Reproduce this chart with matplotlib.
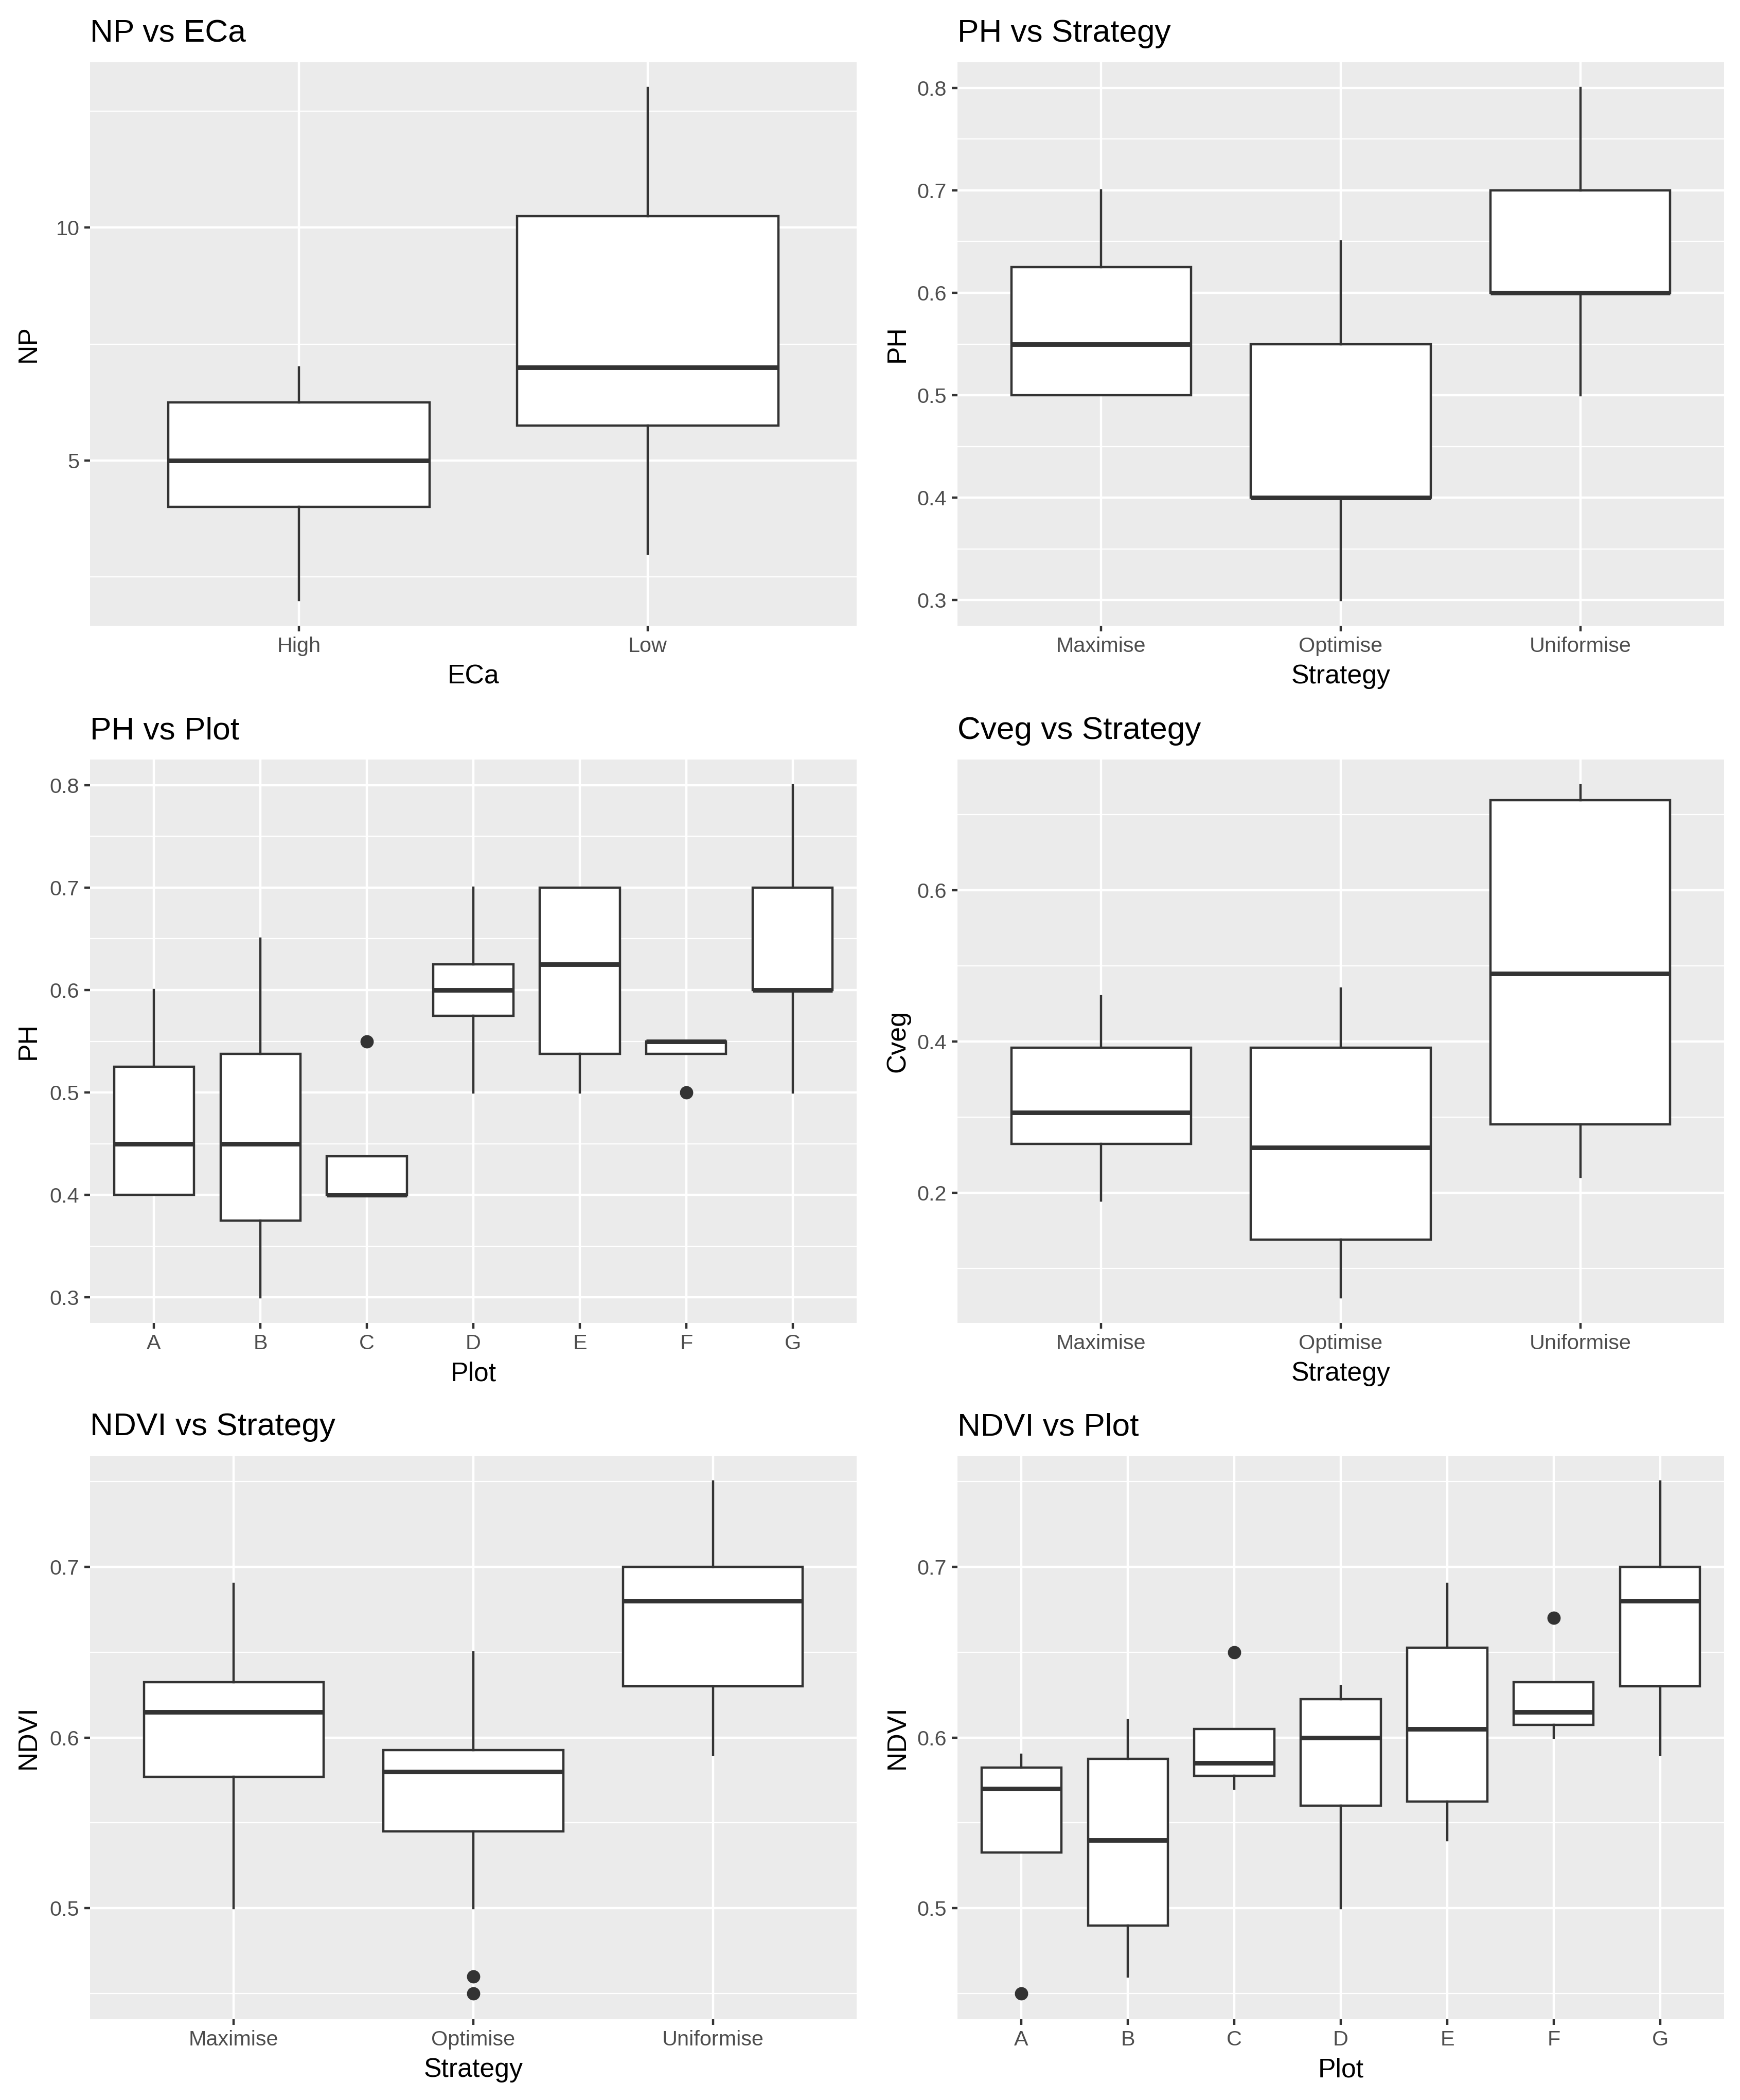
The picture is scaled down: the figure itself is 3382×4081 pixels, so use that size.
import numpy as np
import matplotlib
matplotlib.use("Agg")
import matplotlib.pyplot as plt

plt.rcParams['font.family'] = ['Liberation Sans', 'DejaVu Sans']

# ---- data (box statistics) ----
strategies = ['Maximise', 'Optimise', 'Uniformise']
plots = ['A', 'B', 'C', 'D', 'E', 'F', 'G']

# NP vs ECa
eca = ['High', 'Low']
np_lo = [2, 3]
np_q1 = [4, 5.75]
np_med = [5, 7]
np_q3 = [6.25, 10.25]
np_hi = [7, 13]
np_out = [[], []]

# PH vs Strategy
phs_lo = [0.5, 0.3, 0.5]
phs_q1 = [0.5, 0.4, 0.6]
phs_med = [0.55, 0.4, 0.6]
phs_q3 = [0.625, 0.55, 0.7]
phs_hi = [0.7, 0.65, 0.8]
phs_out = [[], [], []]

# PH vs Plot
php_lo = [0.4, 0.3, 0.4, 0.5, 0.5, 0.5375, 0.5]
php_q1 = [0.4, 0.375, 0.4, 0.575, 0.5375, 0.5375, 0.6]
php_med = [0.45, 0.45, 0.4, 0.6, 0.625, 0.55, 0.6]
php_q3 = [0.525, 0.5375, 0.4375, 0.625, 0.7, 0.55, 0.7]
php_hi = [0.6, 0.65, 0.4375, 0.7, 0.7, 0.55, 0.8]
php_out = [[], [], [0.55], [], [], [0.5], []]

# Cveg vs Strategy
cv_lo = [0.19, 0.062, 0.221]
cv_q1 = [0.265, 0.138, 0.291]
cv_med = [0.306, 0.26, 0.49]
cv_q3 = [0.392, 0.392, 0.719]
cv_hi = [0.46, 0.47, 0.739]
cv_out = [[], [], []]

# NDVI vs Strategy
nds_lo = [0.5, 0.5, 0.59]
nds_q1 = [0.577, 0.545, 0.63]
nds_med = [0.615, 0.58, 0.68]
nds_q3 = [0.6325, 0.5925, 0.7]
nds_hi = [0.69, 0.65, 0.75]
nds_out = [[], [0.46, 0.45], []]

# NDVI vs Plot
ndp_lo = [0.5325, 0.46, 0.57, 0.5, 0.54, 0.6, 0.59]
ndp_q1 = [0.5325, 0.49, 0.5775, 0.56, 0.5625, 0.6075, 0.63]
ndp_med = [0.57, 0.54, 0.585, 0.6, 0.605, 0.615, 0.68]
ndp_q3 = [0.5825, 0.5875, 0.605, 0.6225, 0.6525, 0.6325, 0.7]
ndp_hi = [0.59, 0.61, 0.605, 0.63, 0.69, 0.6325, 0.75]
ndp_out = [[0.45], [], [0.65], [], [], [0.67], []]

# ---- style ----
W, H = 3382, 4081
DPI = 300
LW = 1.07
DARK = '#333333'
FS = 1.13  # text scale relative to ggplot defaults
fig = plt.figure(figsize=(W / DPI, H / DPI), dpi=DPI, facecolor='white')

col_left = [175, 1861]
row_top = [121, 1476, 2829]
pw, ph = 1490, 1095
ylab_x = [-0.0638, -0.0617]   # aligned y titles per column (axes coords)


def add_panel(col, row):
    l = col_left[col] / W
    b = 1 - (row_top[row] + ph) / H
    ax = fig.add_axes([l, b, pw / W, ph / H])
    ax._col = col
    return ax


def ggbox(ax, cats, lo, q1, med, q3, hi, out, title, xlabel, ylabel, yticks, ylabels):
    stats = []
    for i in range(len(cats)):
        stats.append(dict(whislo=lo[i], q1=q1[i], med=med[i], q3=q3[i],
                          whishi=hi[i], fliers=out[i]))
    pos = np.arange(1, len(cats) + 1)
    ax.bxp(stats, positions=pos, widths=0.75, patch_artist=True, showcaps=False,
           boxprops=dict(facecolor='white', edgecolor=DARK, linewidth=LW),
           whiskerprops=dict(color=DARK, linewidth=LW),
           medianprops=dict(color=DARK, linewidth=2 * LW, solid_capstyle='butt'),
           flierprops=dict(marker='o', markerfacecolor=DARK, markeredgecolor=DARK,
                           markersize=5.2, linestyle='none'),
           zorder=3)
    ax.set_xticks(pos)
    ax.set_xticklabels(cats)
    ax.set_yticks(yticks)
    ax.set_yticklabels(ylabels)
    step = yticks[1] - yticks[0]
    minor = [yticks[0] - step / 2] + [t + step / 2 for t in yticks]
    ax.set_yticks(minor, minor=True)
    # ggplot-like scales (set after ticks so they don't widen the view)
    allv = list(lo) + list(hi) + [v for o in out for v in o]
    vmin, vmax = min(allv), max(allv)
    ex = 0.05 * (vmax - vmin)
    ax.set_ylim(vmin - ex, vmax + ex)
    ax.set_xlim(0.4, len(cats) + 0.6)
    ax.set_facecolor('#EBEBEB')
    for s in ax.spines.values():
        s.set_visible(False)
    ax.set_axisbelow(True)
    ax.grid(which='major', color='white', linewidth=LW)
    ax.grid(which='minor', axis='y', color='white', linewidth=LW / 2)
    ax.tick_params(which='major', length=2.75, width=LW, color=DARK,
                   labelsize=8.8 * FS, labelcolor='#4D4D4D', pad=2.2)
    ax.tick_params(which='minor', length=0)
    ax.set_title(title, loc='left', fontsize=13.2 * FS, pad=9.5, color='black')
    ax.set_xlabel(xlabel, fontsize=11 * FS, labelpad=3.8, color='black')
    ax.set_ylabel(ylabel, fontsize=11 * FS, color='black')
    ax.yaxis.set_label_coords(ylab_x[ax._col], 0.5)


ax = add_panel(0, 0)
ggbox(ax, eca, np_lo, np_q1, np_med, np_q3, np_hi, np_out,
      'NP vs ECa', 'ECa', 'NP', [5, 10], ['5', '10'])

ax = add_panel(1, 0)
ggbox(ax, strategies, phs_lo, phs_q1, phs_med, phs_q3, phs_hi, phs_out,
      'PH vs Strategy', 'Strategy', 'PH',
      [0.3, 0.4, 0.5, 0.6, 0.7, 0.8], ['0.3', '0.4', '0.5', '0.6', '0.7', '0.8'])

ax = add_panel(0, 1)
ggbox(ax, plots, php_lo, php_q1, php_med, php_q3, php_hi, php_out,
      'PH vs Plot', 'Plot', 'PH',
      [0.3, 0.4, 0.5, 0.6, 0.7, 0.8], ['0.3', '0.4', '0.5', '0.6', '0.7', '0.8'])

ax = add_panel(1, 1)
ggbox(ax, strategies, cv_lo, cv_q1, cv_med, cv_q3, cv_hi, cv_out,
      'Cveg vs Strategy', 'Strategy', 'Cveg',
      [0.2, 0.4, 0.6], ['0.2', '0.4', '0.6'])

ax = add_panel(0, 2)
ggbox(ax, strategies, nds_lo, nds_q1, nds_med, nds_q3, nds_hi, nds_out,
      'NDVI vs Strategy', 'Strategy', 'NDVI',
      [0.5, 0.6, 0.7], ['0.5', '0.6', '0.7'])

ax = add_panel(1, 2)
ggbox(ax, plots, ndp_lo, ndp_q1, ndp_med, ndp_q3, ndp_hi, ndp_out,
      'NDVI vs Plot', 'Plot', 'NDVI',
      [0.5, 0.6, 0.7], ['0.5', '0.6', '0.7'])

fig.savefig('out.png', dpi=DPI, facecolor='white')
